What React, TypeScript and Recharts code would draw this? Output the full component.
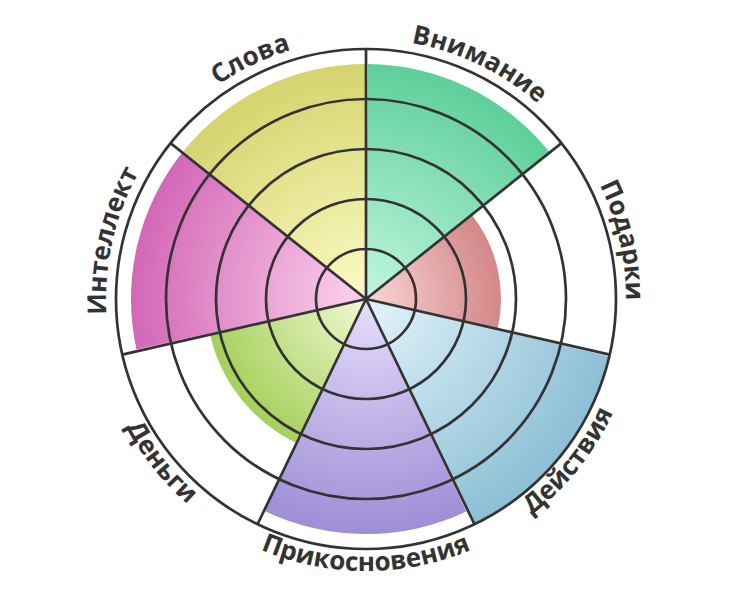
import { RadialBarChart, RadialBar, PolarGrid, PolarAngleAxis, PolarRadiusAxis, Sector } from 'recharts';

const categories = ['Внимание', 'Подарки', 'Действия', 'Прикосновения', 'Деньги', 'Интеллект', 'Слова'];
const scores = [4.7, 2.7, 5, 4.7, 3.2, 4.7, 4.7];
const innerColors = ['#c2f6df', '#f9d6d6', '#e3f4fb', '#e6defb', '#f1f9d3', '#fcd4ee', '#fcfbc6'];
const outerColors = ['#5ecf9a', '#d38788', '#8cbfd5', '#9e8ed6', '#a5d05b', '#d367b6', '#d6d46e'];

const data = categories.map((name, i) => ({ name, value: scores[i] }));

const CX = 366;
const CY = 299;
const R = 250;

const step = 360 / categories.length;
// recharts puts the first band one step counter-clockwise, so start one step further round
const START = 90 - step;
const spokeAngles = categories.map((_, i) => 90 - i * step);

function GradientSector(props: any) {
  const { cx, cy, innerRadius, outerRadius, startAngle, endAngle, payload } = props;
  const i = categories.indexOf(payload?.name);
  const id = `grad-${i}`;
  return (
    <g>
      <defs>
        <radialGradient id={id} gradientUnits="userSpaceOnUse" cx={cx} cy={cy} r={outerRadius}>
          <stop offset="0%" stopColor={innerColors[i]} />
          <stop offset="100%" stopColor={outerColors[i]} />
        </radialGradient>
      </defs>
      <Sector
        cx={cx}
        cy={cy}
        innerRadius={innerRadius}
        outerRadius={outerRadius}
        startAngle={startAngle}
        endAngle={endAngle}
        fill={`url(#${id})`}
        stroke="none"
      />
    </g>
  );
}

function CurvedLabel(props: any) {
  const { payload } = props;
  let index = props.index;
  if (typeof index !== 'number') index = categories.indexOf(payload?.value);
  const mid = (index + 0.5) * step;
  const bottom = mid > 90 && mid < 270;
  const r = bottom ? R + 22 : R + 10;
  const a1 = bottom ? mid + 70 : mid - 70;
  const a2 = bottom ? mid - 70 : mid + 70;
  const pt = (a: number) => [CX + r * Math.sin((a * Math.PI) / 180), CY - r * Math.cos((a * Math.PI) / 180)];
  const [x1, y1] = pt(a1);
  const [x2, y2] = pt(a2);
  const id = `label-path-${index}`;
  const d = `M${x1},${y1} A${r},${r} 0 0 ${bottom ? 0 : 1} ${x2},${y2}`;
  return (
    <g>
      <path id={id} d={d} fill="none" stroke="none" />
      <text fill="#333" fontSize={26} fontWeight={700} fontFamily="'Open Sans', sans-serif">
        <textPath href={`#${id}`} startOffset="50%" textAnchor="middle">
          {categories[index]}
        </textPath>
      </text>
    </g>
  );
}

const layer: React.CSSProperties = { position: 'absolute', left: 0, top: 0 };

export default function App() {
  return (
    <div style={{ position: 'absolute', left: 0, top: 0, width: 732, height: 600, background: '#fff' }}>
      {/* coloured sectors */}
      <div style={layer}>
        <RadialBarChart
          width={732}
          height={600}
          data={data}
          cx={CX}
          cy={CY}
          innerRadius={0}
          outerRadius={R}
          startAngle={START}
          endAngle={START - 360}
          layout="centric"
          barCategoryGap={0}
          barGap={0}
        >
          <PolarAngleAxis type="category" dataKey="name" axisLine={false} tickLine={false} tick={false} />
          <PolarRadiusAxis type="number" domain={[0, 5]} tickCount={6} tick={false} axisLine={false} />
          <RadialBar dataKey="value" isAnimationActive={false} shape={<GradientSector />} />
        </RadialBarChart>
      </div>
      {/* grid rings, spokes and curved labels on top */}
      <div style={layer}>
        <RadialBarChart
          width={732}
          height={600}
          data={data}
          cx={CX}
          cy={CY}
          innerRadius={0}
          outerRadius={R}
          startAngle={START}
          endAngle={START - 360}
          layout="centric"
          barCategoryGap={0}
          barGap={0}
        >
          <PolarAngleAxis type="category" dataKey="name" axisLine={false} tickLine={false} tick={<CurvedLabel />} />
          <PolarRadiusAxis type="number" domain={[0, 5]} tickCount={6} tick={false} axisLine={false} />
          <RadialBar dataKey="value" isAnimationActive={false} fill="transparent" stroke="none" />
          <PolarGrid gridType="circle" polarAngles={spokeAngles} stroke="#333" strokeWidth={2.7} strokeOpacity={1} />
        </RadialBarChart>
      </div>
    </div>
  );
}
